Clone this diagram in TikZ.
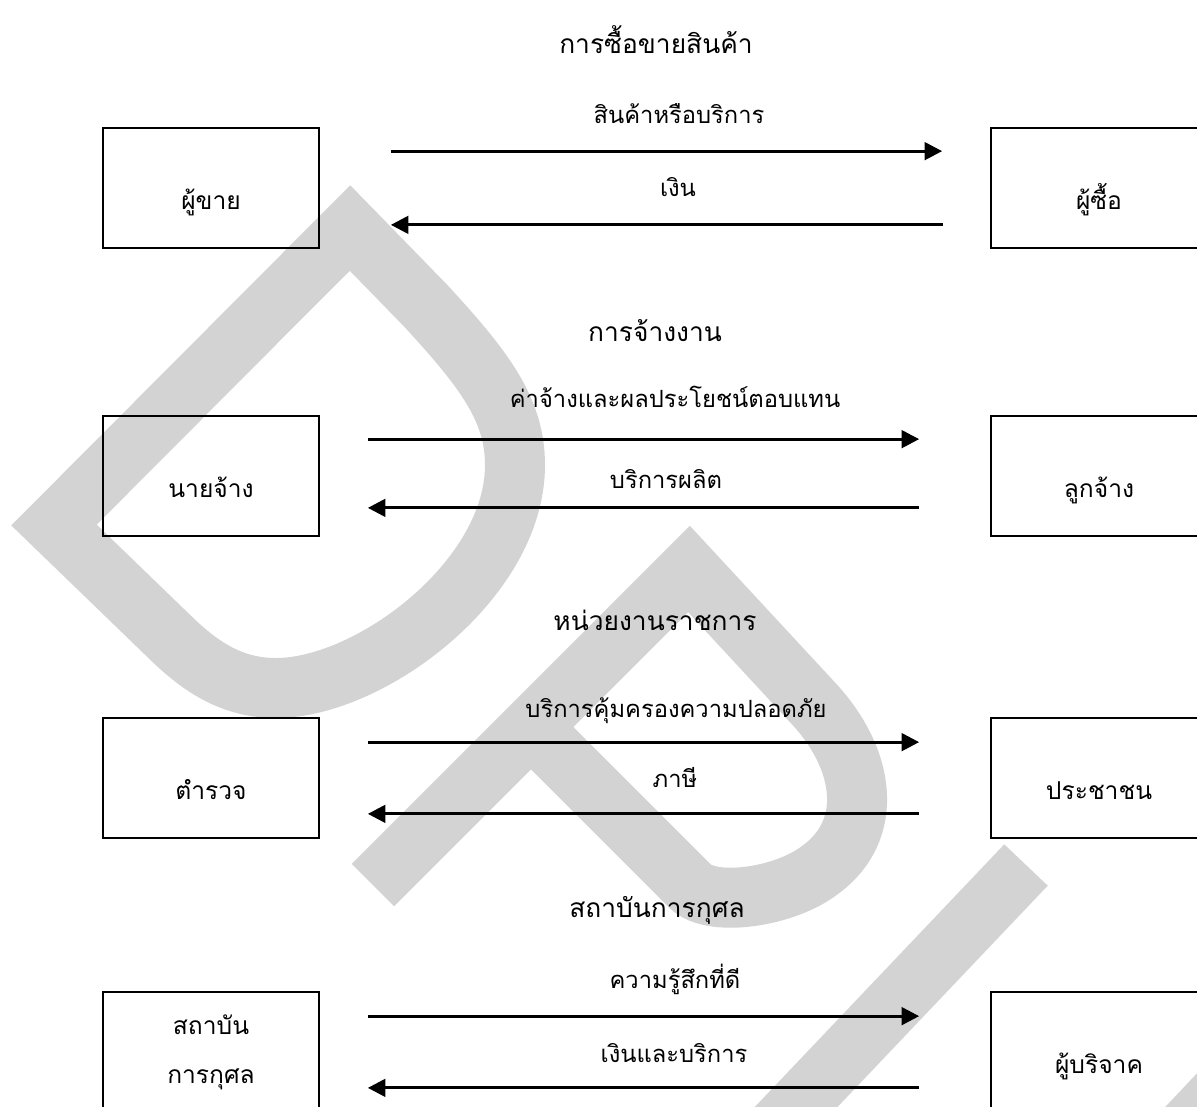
\documentclass[tikz,border=0pt]{standalone}
\usepackage{fontspec}
\newfontfamily\thai[Script=Thai]{Loma}
\usetikzlibrary{arrows.meta,calc}
\definecolor{wmgray}{RGB}{211,211,211}

\begin{document}
\begin{tikzpicture}[x=0.02cm,y=-0.02cm,
  every node/.style={font=\thai\fontsize{13.5}{16}\selectfont,inner sep=0pt},
  head/.style={font=\thai\fontsize{15}{18}\selectfont},
  cell/.style={draw,line width=1pt,minimum width=4.32cm,minimum height=2.4cm,font=\thai\fontsize{14}{28}\selectfont},
  one/.style={cell,text height=26pt,text depth=1pt},
  flow/.style={line width=1.8pt,-{Triangle[length=10pt,width=10pt]}},
  wm/.style={draw=wmgray,line width=1.2cm}]
\useasboundingbox (0,0) rectangle (1197,1106);
\clip (0,0) rectangle (1197,1106);
% watermark
\draw[wm] (54,525) -- (350,228) -- (425,305) .. controls (485,370) and (515,410) .. (515,465)
  .. controls (515,580) and (370,688) .. (276,688) .. controls (235,688) and (205,670) .. (175,642) -- cycle;
\draw[wm] (373,885) -- (689,569) -- (815,705) .. controls (865,760) and (875,830) .. (820,870)
  .. controls (785,897) and (712,908) .. (690,886) -- (531,727);
\draw[wm] (1026,865) -- (760,1145);
\draw[wm] (1265,1045) -- (1180,1135);
% trade
\node[head,anchor=base] (t1) at (656,53) {การซื้อขายสินค้า};
\node[one] (sell) at (211,188) {ผู้ขาย};
\node[one] (buy) at (1099,188) {ผู้ซื้อ};
\node[anchor=base] (g1) at (679,123) {สินค้าหรือบริการ};
\node[anchor=base] (m1) at (678,196) {เงิน};
\draw[flow] ($(sell.north east)+(71,24)$) -- ($(buy.north west)+(-48,24)$);
\draw[flow] ($(buy.south west)+(-47,-24)$) -- ($(sell.south east)+(71,-24)$);
% hiring
\node[head,anchor=base] (t2) at (655,341) {การจ้างงาน};
\node[one] (boss) at (211,476) {นายจ้าง};
\node[one] (staff) at (1099,476) {ลูกจ้าง};
\node[anchor=base] (g2) at (675,407) {ค่าจ้างและผลประโยชน์ตอบแทน};
\node[anchor=base] (m2) at (666,488) {บริการผลิต};
\draw[flow] ($(boss.north east)+(48,24)$) -- ($(staff.north west)+(-71,24)$);
\draw[flow] ($(staff.south west)+(-71,-29)$) -- ($(boss.south east)+(48,-29)$);
% government
\node[head,anchor=base] (t3) at (655,630) {หน่วยงานราชการ};
\node[one] (cop) at (211,778) {ตำรวจ};
\node[one] (folk) at (1099,778) {ประชาชน};
\node[anchor=base] (g3) at (676,717) {บริการคุ้มครองความปลอดภัย};
\node[anchor=base] (m3) at (675,787) {ภาษี};
\draw[flow] ($(cop.north east)+(48,25)$) -- ($(folk.north west)+(-71,25)$);
\draw[flow] ($(folk.south west)+(-71,-25)$) -- ($(cop.south east)+(48,-25)$);
% charity
\node[head,anchor=base] (t4) at (657,917) {สถาบันการกุศล};
\node[cell,align=center] (fund) at (211,1052) {สถาบัน\\การกุศล};
\node[one] (donor) at (1099,1052) {ผู้บริจาค};
\node[anchor=base] (g4) at (675,988) {ความรู้สึกที่ดี};
\node[anchor=base] (m4) at (674,1062) {เงินและบริการ};
\draw[flow] ($(fund.north east)+(48,25)$) -- ($(donor.north west)+(-71,25)$);
\draw[flow] ($(donor.south west)+(-71,-25)$) -- ($(fund.south east)+(48,-25)$);
\end{tikzpicture}
\end{document}
